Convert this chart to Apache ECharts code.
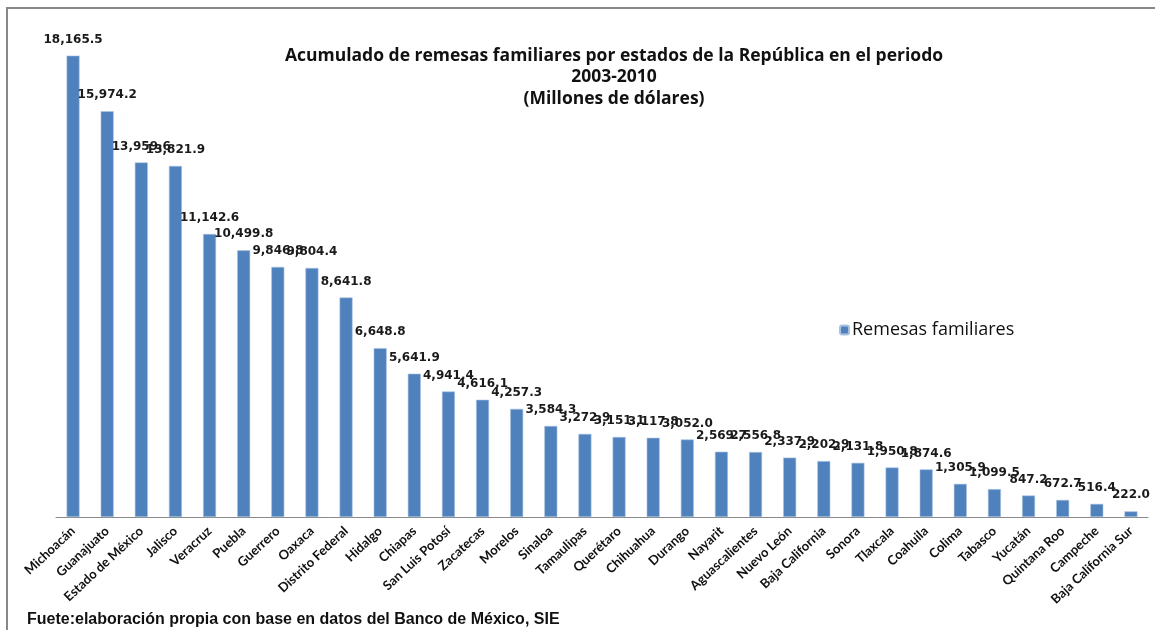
<!DOCTYPE html>
<html><head><meta charset="utf-8">
<script src="https://cdn.jsdelivr.net/npm/echarts@6/dist/echarts.min.js"></script>
<style>html,body{margin:0;padding:0;background:#fff}#c{width:1155px;height:630px}</style>
</head><body><div id="c"></div>
<script>
const categories = ["Michoacán","Guanajuato","Estado de México","Jalisco","Veracruz","Puebla","Guerrero","Oaxaca","Distrito Federal","Hidalgo","Chiapas","San Luis Potosí","Zacatecas","Morelos","Sinaloa","Tamaulipas","Querétaro","Chihuahua","Durango","Nayarit","Aguascalientes","Nuevo León","Baja California","Sonora","Tlaxcala","Coahuila","Colima","Tabasco","Yucatán","Quintana Roo","Campeche","Baja California Sur"];
const remesas = [18165.5,15974.2,13959.6,13821.9,11142.6,10499.8,9846.8,9804.4,8641.8,6648.8,5641.9,4941.4,4616.1,4257.3,3584.3,3272.9,3151.1,3117.8,3052.0,2569.7,2556.8,2337.9,2202.9,2131.8,1950.8,1874.6,1305.9,1099.5,847.2,672.7,516.4,222.0];
const seriesName = "Remesas familiares";
const titleText = "Acumulado de remesas familiares por estados de la República en el periodo\n2003-2010\n(Millones de dólares)";
const sourceText = "Fuete:elaboración propia con base en datos del Banco de México, SIE";

const chart = echarts.init(document.getElementById('c'));
chart.setOption({
  animation: false,
  backgroundColor: '#fff',
  title: {
    text: titleText, left: 609, top: 40, textAlign: 'center',
    textStyle: {fontFamily: 'Open Sans', fontWeight: 'bold', fontSize: 17.5, lineHeight: 21.5, color: '#111'}
  },
  legend: {
    data: [seriesName], left: 834, top: 316, itemWidth: 9, itemHeight: 9, itemGap: 4,
    textStyle: {fontFamily: 'Open Sans', fontSize: 18, color: '#111', padding: [0,0,0,-2]}
  },
  grid: {left: 56, right: 7, top: 9, bottom: 113},
  xAxis: {
    type: 'category', data: categories,
    axisLine: {lineStyle: {color: '#8a8a8a', width: 1}},
    axisTick: {show: false},
    axisLabel: {interval: 0, rotate: 43, margin: 12, fontFamily: 'Lato', fontWeight: 'bold', fontSize: 13, color: '#111'}
  },
  yAxis: {type: 'value', min: 0, max: 20000, show: false, splitLine: {show: false}},
  series: [{
    name: seriesName, type: 'bar', data: remesas, barWidth: 13,
    itemStyle: {color: '#4F81BD', borderColor: '#a9c2e3', borderWidth: 0.6},
    label: {
      show: true, position: 'top', distance: 10,
      formatter: p => p.value.toLocaleString('en-US', {minimumFractionDigits: 1, maximumFractionDigits: 1}),
      fontFamily: 'DejaVu Sans', fontWeight: 'bold', fontSize: 12, color: '#1a1a1a'
    }
  }],
  graphic: [
    {type: 'rect', shape: {x: 7, y: 8, width: 1300, height: 800}, style: {fill: 'none', stroke: '#888', lineWidth: 2}, silent: true, z: -1},
    {type: 'text', left: 27, top: 612, style: {text: sourceText, font: 'bold 16px "Liberation Sans"', fill: '#111'}}
  ]
});
</script></body></html>
